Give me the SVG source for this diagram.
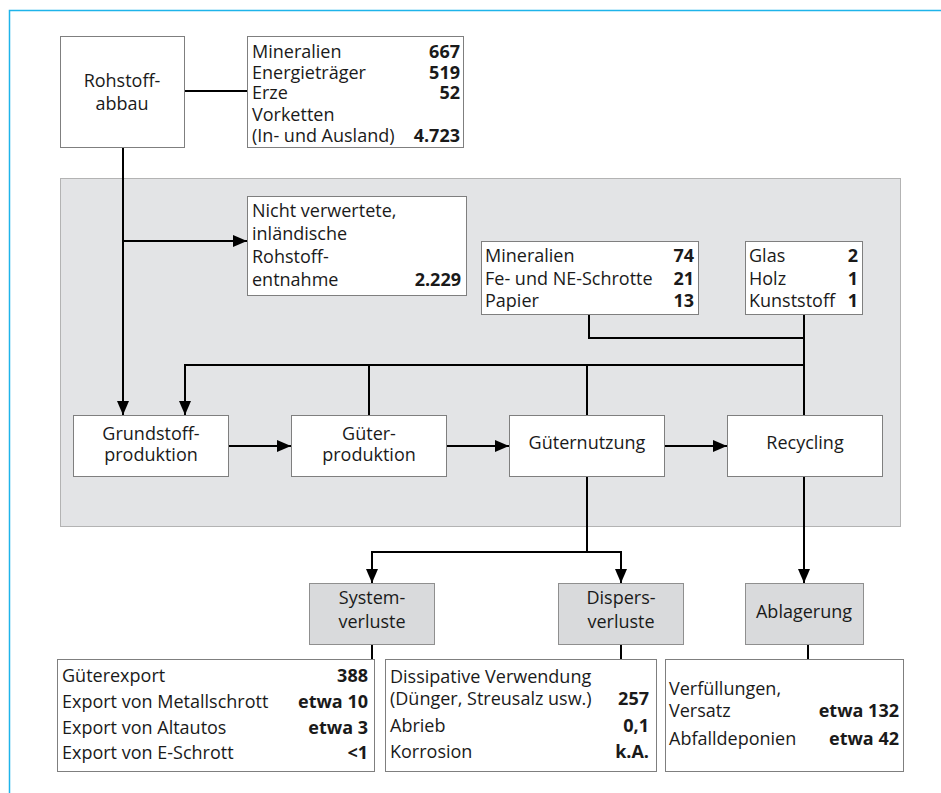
<svg xmlns="http://www.w3.org/2000/svg" width="941" height="793" viewBox="0 0 941 793">
<defs>
<marker id="ah" markerWidth="14" markerHeight="12" refX="14" refY="6" orient="auto" markerUnits="userSpaceOnUse">
<path d="M0,0 L14,6 L0,12 Z" fill="#000"/>
</marker>
<style>
text{font-family:"Open Sans","Liberation Sans",sans-serif;font-size:18px;fill:#1a1a1a}
.b{font-weight:bold;text-anchor:end}
.c{text-anchor:middle}
.box{fill:#fff;stroke:#7f7f7f;stroke-width:1}
.gbox{fill:#d9dadc;stroke:#8f8f8f;stroke-width:1}
.ln{fill:none;stroke:#000;stroke-width:2}
</style>
</defs>
<rect width="941" height="793" fill="#fff"/>
<path d="M9.5,793 V10.5 H941" fill="none" stroke="#1eb4ea" stroke-width="1.5"/>
<rect id="panel" x="60.5" y="178.5" width="840" height="348" fill="#e3e4e6" stroke="#b3b3b3" stroke-width="1"/>

<g id="connectors">
<path class="ln" d="M185,91 H247"/>
<path class="ln" d="M123,148 V415" marker-end="url(#ah)"/>
<path class="ln" d="M123,241 H247" marker-end="url(#ah)"/>
<path class="ln" d="M589,315 V338 H804"/>
<path class="ln" d="M804,315 V415"/>
<path class="ln" d="M804,365 H185 V415" marker-end="url(#ah)"/>
<path class="ln" d="M369,365 V415"/>
<path class="ln" d="M587,365 V415"/>
<path class="ln" d="M228,446 H291" marker-end="url(#ah)"/>
<path class="ln" d="M446,446 H509" marker-end="url(#ah)"/>
<path class="ln" d="M664,446 H727" marker-end="url(#ah)"/>
<path class="ln" d="M587,476 V552"/>
<path class="ln" d="M587,552 H372 V583" marker-end="url(#ah)"/>
<path class="ln" d="M587,552 H621 V583" marker-end="url(#ah)"/>
<path class="ln" d="M804,476 V583" marker-end="url(#ah)"/>
<path class="ln" d="M372,645 V659"/>
<path class="ln" d="M621,645 V659"/>
<path class="ln" d="M808,645 V659"/>
</g>

<g id="rohstoffabbau">
<rect class="box" x="60.5" y="36.5" width="124" height="111"/>
<text class="c" x="122" y="87">Rohstoff-</text>
<text class="c" x="122" y="110">abbau</text>
</g>

<g id="rohstoffliste">
<rect class="box" x="247.5" y="36.5" width="216" height="111"/>
<text x="252" y="58">Mineralien</text><text class="b" x="460" y="58">667</text>
<text x="252" y="79">Energieträger</text><text class="b" x="460" y="79">519</text>
<text x="252" y="99">Erze</text><text class="b" x="460" y="99">52</text>
<text x="252" y="121">Vorketten</text>
<text x="252" y="142">(In- und Ausland)</text><text class="b" x="460" y="142">4.723</text>
</g>

<g id="nichtverwertet">
<rect class="box" x="247.5" y="196.5" width="219" height="99"/>
<text x="252" y="217">Nicht verwertete,</text>
<text x="252" y="240">inländische</text>
<text x="252" y="263">Rohstoff-</text>
<text x="252" y="286">entnahme</text><text class="b" x="461" y="286">2.229</text>
</g>

<g id="sekundaer1">
<rect class="box" x="481.5" y="241.5" width="217" height="73"/>
<text x="485" y="262">Mineralien</text><text class="b" x="694" y="262">74</text>
<text x="485" y="285">Fe- und NE-Schrotte</text><text class="b" x="694" y="285">21</text>
<text x="485" y="307">Papier</text><text class="b" x="694" y="307">13</text>
</g>

<g id="sekundaer2">
<rect class="box" x="745.5" y="241.5" width="117" height="73"/>
<text x="749" y="262">Glas</text><text class="b" x="858" y="262">2</text>
<text x="749" y="285">Holz</text><text class="b" x="858" y="285">1</text>
<text x="749" y="307">Kunststoff</text><text class="b" x="858" y="307">1</text>
</g>

<g id="grundstoffproduktion">
<rect class="box" x="73.5" y="415.5" width="155" height="61"/>
<text class="c" x="151" y="440">Grundstoff-</text>
<text class="c" x="151" y="461">produktion</text>
</g>

<g id="gueterproduktion">
<rect class="box" x="291.5" y="415.5" width="155" height="61"/>
<text class="c" x="369" y="440">Güter-</text>
<text class="c" x="369" y="461">produktion</text>
</g>

<g id="gueternutzung">
<rect class="box" x="509.5" y="415.5" width="155" height="61"/>
<text class="c" x="587" y="449">Güternutzung</text>
</g>

<g id="recycling">
<rect class="box" x="727.5" y="415.5" width="155" height="61"/>
<text class="c" x="805" y="449">Recycling</text>
</g>

<g id="systemverluste">
<rect class="gbox" x="309.5" y="583.5" width="125" height="61"/>
<text class="c" x="372" y="604">System-</text>
<text class="c" x="372" y="628">verluste</text>
</g>

<g id="dispersverluste">
<rect class="gbox" x="558.5" y="583.5" width="125" height="61"/>
<text class="c" x="621" y="604">Dispers-</text>
<text class="c" x="621" y="628">verluste</text>
</g>

<g id="ablagerung">
<rect class="gbox" x="745.5" y="583.5" width="118" height="61"/>
<text class="c" x="804" y="618">Ablagerung</text>
</g>

<g id="systemverluste-liste">
<rect class="box" x="57.5" y="659.5" width="317" height="112"/>
<text x="62" y="682">Güterexport</text><text class="b" x="368" y="682">388</text>
<text x="62" y="708">Export von Metallschrott</text><text class="b" x="368" y="708">etwa 10</text>
<text x="62" y="734">Export von Altautos</text><text class="b" x="368" y="734">etwa 3</text>
<text x="62" y="759">Export von E-Schrott</text><text class="b" x="368" y="759">&lt;1</text>
</g>

<g id="dispersverluste-liste">
<rect class="box" x="385.5" y="659.5" width="271" height="112"/>
<text x="390" y="683">Dissipative Verwendung</text>
<text x="390" y="705">(Dünger, Streusalz usw.)</text><text class="b" x="649" y="705">257</text>
<text x="390" y="732">Abrieb</text><text class="b" x="649" y="732">0,1</text>
<text x="390" y="758">Korrosion</text><text class="b" x="649" y="758">k.A.</text>
</g>

<g id="ablagerung-liste">
<rect class="box" x="665.5" y="659.5" width="238" height="112"/>
<text x="669" y="695">Verfüllungen,</text>
<text x="669" y="717">Versatz</text><text class="b" x="899" y="717">etwa 132</text>
<text x="669" y="745">Abfalldeponien</text><text class="b" x="899" y="745">etwa 42</text>
</g>
</svg>
